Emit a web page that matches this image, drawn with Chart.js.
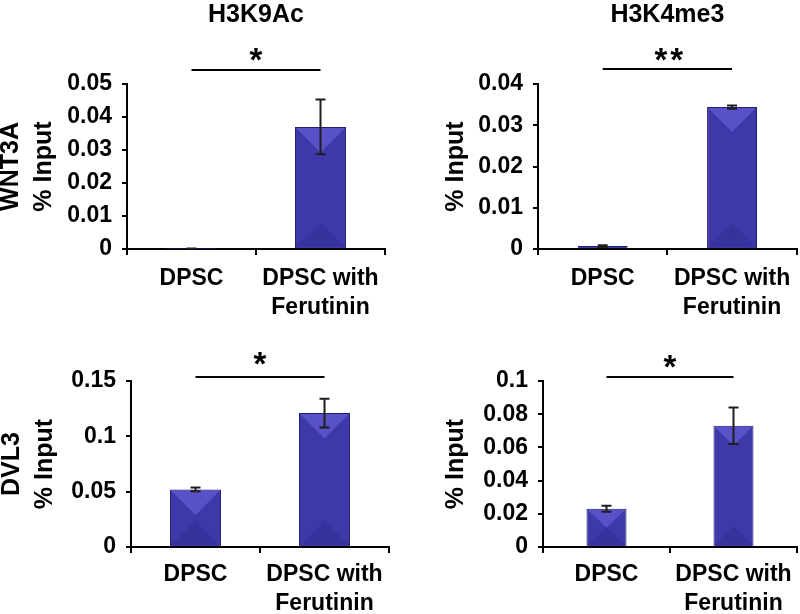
<!DOCTYPE html>
<html>
<head>
<meta charset="utf-8">
<script src="https://cdn.jsdelivr.net/npm/chart.js@4/dist/chart.umd.min.js"></script>
<style>
  html, body { margin: 0; padding: 0; background: #fff; }
  #wrap { position: relative; width: 800px; height: 614px; overflow: hidden; }
  #wrap canvas { position: absolute; left: 0; top: 0; }
</style>
</head>
<body>
<div id="wrap">
  <canvas id="c0" width="800" height="614"></canvas>
  <canvas id="c1" width="800" height="614"></canvas>
  <canvas id="c2" width="800" height="614"></canvas>
  <canvas id="c3" width="800" height="614"></canvas>
</div>
<script>
// ---------------- data ----------------
const categories = ['DPSC', ['DPSC with', 'Ferutinin']];
const panelTitles = ['H3K9Ac', 'H3K4me3', '', ''];
const yAxisTitles = [['WNT3A', '% Input'], ['% Input'], ['DVL3', '% Input'], ['% Input']];

const wnt3aH3K9Ac      = [0.0001, 0.037];
const wnt3aH3K9AcErr   = [0.00005, 0.0083];
const wnt3aH3K4me3     = [0.0007, 0.0344];
const wnt3aH3K4me3Err  = [0.0002, 0.0004];
const dvl3H3K9Ac       = [0.052, 0.121];
const dvl3H3K9AcErr    = [0.0017, 0.013];
const dvl3H3K4me3      = [0.023, 0.073];
const dvl3H3K4me3Err   = [0.0018, 0.011];

const significance = ['*', '**', '*', '*'];

const yTicksA = [0, 0.01, 0.02, 0.03, 0.04, 0.05];
const yTickLabelsA = ['0', '0.01', '0.02', '0.03', '0.04', '0.05'];
const yTicksB = [0, 0.01, 0.02, 0.03, 0.04];
const yTickLabelsB = ['0', '0.01', '0.02', '0.03', '0.04'];
const yTicksC = [0, 0.05, 0.1, 0.15];
const yTickLabelsC = ['0', '0.05', '0.1', '0.15'];
const yTicksD = [0, 0.02, 0.04, 0.06, 0.08, 0.1];
const yTickLabelsD = ['0', '0.02', '0.04', '0.06', '0.08', '0.1'];

const panelValues = [wnt3aH3K9Ac, wnt3aH3K4me3, dvl3H3K9Ac, dvl3H3K4me3];
const panelErrors = [wnt3aH3K9AcErr, wnt3aH3K4me3Err, dvl3H3K9AcErr, dvl3H3K4me3Err];
const panelTicks = [yTicksA, yTicksB, yTicksC, yTicksD];
const panelTickLabels = [yTickLabelsA, yTickLabelsB, yTickLabelsC, yTickLabelsD];

// ---------------- layout / style ----------------
const FONT = "'Liberation Sans', Arial, Helvetica, sans-serif";
const W = 800, H = 614;
const layoutSpec = [
  { area: { left: 127, right: 385, top: 84,  bottom: 249 }, padLeft: 0,   yTitleX: 11,  titleY: 15, barPct: 0.395, labelPad: 9,  bracketGap: 14, starGap: 18 },
  { area: { left: 538, right: 797, top: 84,  bottom: 249 }, padLeft: 400, yTitleX: 456, titleY: 15, barPct: 0.386, labelPad: 9,  bracketGap: 15, starGap: 17 },
  { area: { left: 131, right: 389, top: 381, bottom: 547 }, padLeft: 0,   yTitleX: 12,  titleY: 0,  barPct: 0.395, labelPad: 7,  bracketGap: 4,  starGap: 21 },
  { area: { left: 543, right: 797, top: 381, bottom: 547 }, padLeft: 400, yTitleX: 456, titleY: 0,  barPct: 0.315, labelPad: 7,  bracketGap: 4,  starGap: 18 }
];
const TITLE_LH = 28;
const YTITLE_LH = 33;
const XLABEL_LH = 29;

const barMain = '#3e38a9';
const barLight = '#5851c7';
const barDark = '#38329e';
const barBorder = '#221e70';

const decoPlugin = {
  id: 'panelDeco',
  afterDatasetsDraw(chart, args, opts) {
    const ctx = chart.ctx;
    const ys = chart.scales.y, xs = chart.scales.x;
    const meta = chart.getDatasetMeta(0);
    ctx.save();
    meta.data.forEach((bar, i) => {
      const p = bar.getProps(['x', 'y', 'base', 'width'], true);
      const l = p.x - p.width / 2 + 1, r = p.x + p.width / 2 - 1;
      const top = Math.min(p.y, p.base) + 1, bot = Math.max(p.y, p.base) - 1;
      const h = bot - top;
      if (h > 2) {
        const d = Math.min((r - l) / 2, h / 2);
        ctx.fillStyle = barLight;
        ctx.beginPath(); ctx.moveTo(l, top); ctx.lineTo(r, top); ctx.lineTo(p.x, top + d); ctx.closePath(); ctx.fill();
        ctx.fillStyle = barDark;
        ctx.beginPath(); ctx.moveTo(l, bot); ctx.lineTo(r, bot); ctx.lineTo(p.x, bot - d); ctx.closePath(); ctx.fill();
      }
      // error bar
      const v = chart.data.datasets[0].data[i];
      const e = opts.errors[i];
      const yHi = ys.getPixelForValue(v + e), yLo = ys.getPixelForValue(v - e);
      ctx.strokeStyle = '#1e1e1e';
      ctx.lineWidth = 2;
      ctx.beginPath();
      ctx.moveTo(p.x, yHi); ctx.lineTo(p.x, yLo);
      ctx.moveTo(p.x - 5, yHi); ctx.lineTo(p.x + 5, yHi);
      ctx.moveTo(p.x - 5, yLo); ctx.lineTo(p.x + 5, yLo);
      ctx.stroke();
    });
    // significance bracket
    const x1 = xs.getPixelForValue(0), x2 = xs.getPixelForValue(1);
    const by = chart.chartArea.top - opts.bracketGap;
    ctx.strokeStyle = '#000';
    ctx.lineWidth = 2;
    ctx.beginPath(); ctx.moveTo(x1, by); ctx.lineTo(x2, by); ctx.stroke();
    const size = 33;
    ctx.font = 'bold ' + size + 'px ' + FONT;
    ctx.fillStyle = '#000';
    ctx.textAlign = 'center';
    ctx.textBaseline = 'alphabetic';
    if ('letterSpacing' in ctx) ctx.letterSpacing = opts.sig.length > 1 ? '3px' : '0px';
    ctx.fillText(opts.sig, (x1 + x2) / 2 + (opts.sig.length > 1 ? 3 : 0), by - opts.starGap + 0.58 * size);
    ctx.restore();
  }
};

function makePanel(i) {
  const L = layoutSpec[i];
  const a = L.area;
  const hasTitle = panelTitles[i] !== '';
  const titlePadTop = L.titleY - TITLE_LH / 2;
  const titlePadBottom = a.top - titlePadTop - TITLE_LH;
  const ticks = panelTicks[i];
  const tickLabels = panelTickLabels[i];
  const lines = yAxisTitles[i];
  const yTitlePad = L.yTitleX - L.padLeft - YTITLE_LH / 2;
  const xAxisH = Math.min(85, H - a.bottom);

  return new Chart(document.getElementById('c' + i), {
    type: 'bar',
    data: {
      labels: categories,
      datasets: [{
        data: panelValues[i],
        backgroundColor: barMain,
        borderColor: barBorder,
        borderWidth: 1,
        barPercentage: L.barPct,
        categoryPercentage: 1
      }]
    },
    options: {
      responsive: false,
      animation: false,
      devicePixelRatio: 1,
      events: [],
      layout: {
        padding: {
          left: L.padLeft,
          right: W - a.right,
          top: hasTitle ? 0 : a.top,
          bottom: H - a.bottom - xAxisH
        }
      },
      plugins: {
        legend: { display: false },
        tooltip: { enabled: false },
        title: {
          display: hasTitle,
          text: panelTitles[i],
          fullSize: false,
          color: '#000',
          font: { family: FONT, size: 25, weight: 'bold', lineHeight: TITLE_LH + 'px' },
          padding: { top: titlePadTop, bottom: titlePadBottom }
        },
        panelDeco: {
          errors: panelErrors[i],
          sig: significance[i],
          bracketGap: L.bracketGap,
          starGap: L.starGap
        }
      },
      scales: {
        x: {
          type: 'category',
          offset: true,
          grid: { display: true, offset: true, drawOnChartArea: false, drawTicks: true, tickLength: 6, color: '#000', lineWidth: 2 },
          border: { display: true, color: '#000', width: 2 },
          ticks: {
            color: '#000',
            padding: L.labelPad,
            maxRotation: 0,
            autoSkip: false,
            font: { family: FONT, size: 23, weight: 'bold', lineHeight: XLABEL_LH + 'px' }
          },
          afterFit(scale) { scale.height = xAxisH; }
        },
        y: {
          min: 0,
          max: ticks[ticks.length - 1],
          grid: { display: true, drawOnChartArea: false, drawTicks: true, tickLength: 5, color: '#000', lineWidth: 2 },
          border: { display: true, color: '#000', width: 2 },
          afterBuildTicks(scale) { scale.ticks = ticks.map(v => ({ value: v })); },
          ticks: {
            color: '#000',
            padding: 10,
            font: { family: FONT, size: 23, weight: 'bold' },
            callback: (v, idx) => tickLabels[idx]
          },
          title: {
            display: true,
            text: lines,
            color: '#000',
            font: { family: FONT, size: 25, weight: 'bold', lineHeight: YTITLE_LH + 'px' },
            padding: { top: yTitlePad, bottom: 0 }
          },
          afterFit(scale) { scale.width = a.left - L.padLeft; }
        }
      }
    },
    plugins: [decoPlugin]
  });
}

for (let i = 0; i < 4; i++) makePanel(i);
</script>
</body>
</html>
